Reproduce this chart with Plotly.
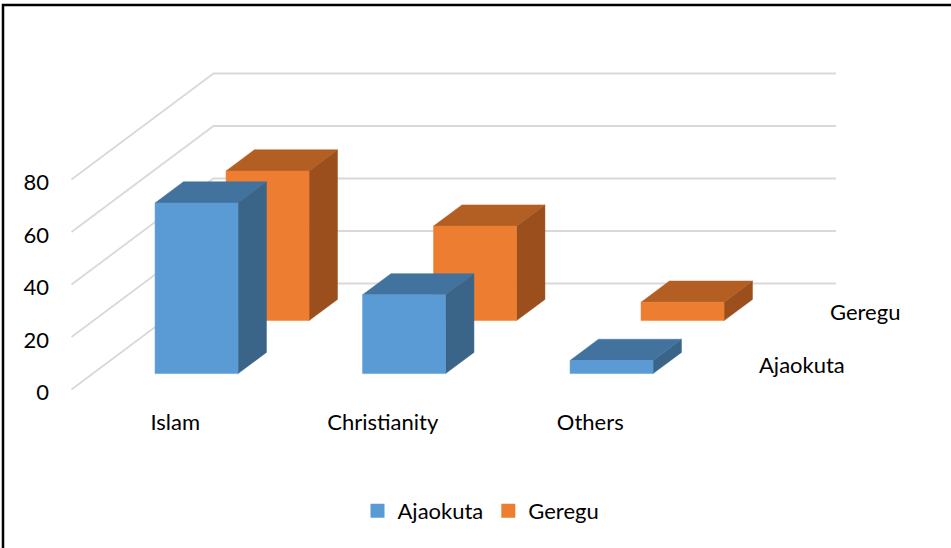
import plotly.graph_objects as go

# ---------------- data ----------------
categories = ["Islam", "Christianity", "Others"]
series_names = ["Ajaokuta", "Geregu"]
ajaokuta = [65, 30, 5]
geregu = [57, 36, 7]
y_ticks = [0, 20, 40, 60, 80]

series_values = [ajaokuta, geregu]

# ---------------- style ----------------
front_colors = ["#5B9BD5", "#ED7D31"]
top_colors = ["#42739F", "#B35E22"]
side_colors = ["#3A6589", "#9A4F1D"]
grid_color = "#D9D9D9"
FONT = "Lato"
FS = 22

W, H = 951, 548
ML, MB = 50, 141
# projection geometry (pixels)
X0_PX, CAT_PX = 71.5, 207.5
Y0_PX, VAL_PX = 389.5, 2.625
DEPTH_DX_PX, DEPTH_DY_PX = 142.0, 106.0

DX = DEPTH_DX_PX / CAT_PX        # full depth in category units
DY = DEPTH_DY_PX / VAL_PX        # full depth in value units
BAR_W = 0.4                      # bar width as fraction of category
N_S = len(series_names)


def proj(x, y, d):
    return x + d * DX, y + d * DY


fig = go.Figure()

# gridlines: left wall diagonal + back wall horizontal
gx, gy = [], []
n_cat = len(categories)
for v in y_ticks:
    for (x, y, d) in [(0, v, 0), (0, v, 1), (n_cat, v, 1)]:
        px, py = proj(x, y, d)
        gx.append(px)
        gy.append(py)
    gx.append(None)
    gy.append(None)
fig.add_trace(go.Scatter(x=gx, y=gy, mode="lines",
                         line=dict(color=grid_color, width=1.8),
                         showlegend=False, hoverinfo="skip"))

# bars: draw back series first
for j in reversed(range(N_S)):
    vals = series_values[j]
    d0 = (j + (1 - BAR_W) / 2) / N_S
    d1 = (j + (1 + BAR_W) / 2) / N_S
    faces = {"side": ([], []), "top": ([], []), "front": ([], [])}
    for i, v in enumerate(vals):
        x0 = i + (1 - BAR_W) / 2
        x1 = i + (1 + BAR_W) / 2
        polys = {
            "front": [(x0, 0, d0), (x1, 0, d0), (x1, v, d0), (x0, v, d0)],
            "top": [(x0, v, d0), (x1, v, d0), (x1, v, d1), (x0, v, d1)],
            "side": [(x1, 0, d0), (x1, 0, d1), (x1, v, d1), (x1, v, d0)],
        }
        for k, pts in polys.items():
            xs, ys = faces[k]
            for p in pts + [pts[0]]:
                px, py = proj(*p)
                xs.append(px)
                ys.append(py)
            xs.append(None)
            ys.append(None)
    for k, col in [("side", side_colors[j]), ("top", top_colors[j]),
                   ("front", front_colors[j])]:
        xs, ys = faces[k]
        fig.add_trace(go.Scatter(x=xs, y=ys, mode="lines", fill="toself",
                                 fillcolor=col,
                                 line=dict(color=col, width=0.5),
                                 showlegend=False, hoverinfo="skip"))

# legend entries
for j, name in enumerate(series_names):
    fig.add_trace(go.Scatter(x=[None], y=[None], mode="markers", name=name,
                             marker=dict(symbol="square", size=14,
                                         color=front_colors[j])))

# series (depth) axis labels
for j, name in enumerate(series_names):
    px, py = proj(n_cat, 0, (j + 0.5) / N_S)
    fig.add_annotation(x=px, y=py, text=name, showarrow=False,
                       xanchor="left", yanchor="middle", xshift=27, yshift=-1,
                       font=dict(family=FONT, size=FS, color="#000000"))


def paper_x(px):
    return (px - ML) / (W - ML)


def paper_y(py):
    return ((H - MB) - py) / (H - MB)


# outer border (left and top edges visible)
fig.add_shape(type="path", xref="paper", yref="paper",
              path=f"M {paper_x(3)} {paper_y(H + 5)} L {paper_x(3)} {paper_y(5)} "
                   f"L {paper_x(W + 5)} {paper_y(5)}",
              line=dict(color="#000000", width=2.5))

fig.update_layout(
    width=W, height=H,
    margin=dict(l=ML, r=0, t=0, b=MB),
    paper_bgcolor="white", plot_bgcolor="white",
    font=dict(family=FONT, size=FS, color="#000000"),
    xaxis=dict(range=[(ML - X0_PX) / CAT_PX, (W - X0_PX) / CAT_PX],
               tickvals=[i + 0.5 for i in range(n_cat)], ticktext=categories,
               showgrid=False, zeroline=False, showline=False, ticks="",
               fixedrange=True),
    yaxis=dict(range=[(Y0_PX - (H - MB)) / VAL_PX, Y0_PX / VAL_PX],
               tickvals=y_ticks, showgrid=False, zeroline=False,
               showline=False, ticks="", fixedrange=True, ticklabelshift=3),
    legend=dict(orientation="h", xref="container", yref="container",
                x=481 / W, xanchor="center", y=1 - 511 / H, yanchor="middle",
                font=dict(family=FONT, size=FS, color="#000000"),
                itemwidth=30),
    hovermode=False,
)

fig.write_html("out.html", config={"displayModeBar": False},
               post_script="document.body.style.margin='0';"
                           "document.body.style.overflow='hidden';")
